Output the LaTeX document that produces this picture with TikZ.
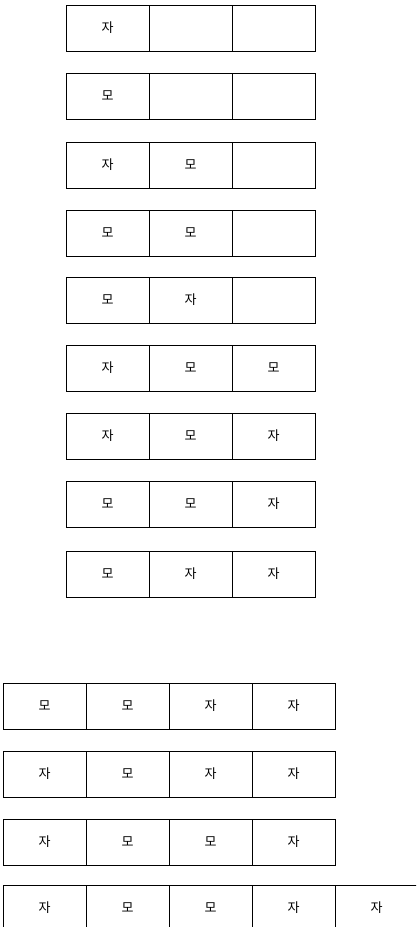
\documentclass[tikz,border=0pt]{standalone}
\usepackage{fontspec}
\newfontfamily\kr{Noto Sans CJK KR}
\usepackage{tikz}
\usetikzlibrary{positioning}

\begin{document}
\begin{tikzpicture}[
      x=1pt, y=1pt,
      node distance=0pt,
      cell/.style={draw, line width=1pt, minimum width=83pt,
                   minimum height=46pt, inner sep=0pt, outer sep=0pt,
                   font=\kr\fontsize{13}{15}\selectfont}
    ]
    \useasboundingbox (0,0) rectangle (416,-927);
    \clip (0,0) rectangle (416,-927);

    % three-cell rows
    \node[cell, anchor=north west] (r1a) at (66,-5) {자};
    \node[cell, right=of r1a] (r1b) {};
    \node[cell, right=of r1b] (r1c) {};

    \node[cell, anchor=north west] (r2a) at (66,-73) {모};
    \node[cell, right=of r2a] (r2b) {};
    \node[cell, right=of r2b] (r2c) {};

    \node[cell, anchor=north west] (r3a) at (66,-142) {자};
    \node[cell, right=of r3a] (r3b) {모};
    \node[cell, right=of r3b] (r3c) {};

    \node[cell, anchor=north west] (r4a) at (66,-210) {모};
    \node[cell, right=of r4a] (r4b) {모};
    \node[cell, right=of r4b] (r4c) {};

    \node[cell, anchor=north west] (r5a) at (66,-277) {모};
    \node[cell, right=of r5a] (r5b) {자};
    \node[cell, right=of r5b] (r5c) {};

    \node[cell, anchor=north west] (r6a) at (66,-345) {자};
    \node[cell, right=of r6a] (r6b) {모};
    \node[cell, right=of r6b] (r6c) {모};

    \node[cell, anchor=north west] (r7a) at (66,-413) {자};
    \node[cell, right=of r7a] (r7b) {모};
    \node[cell, right=of r7b] (r7c) {자};

    \node[cell, anchor=north west] (r8a) at (66,-481) {모};
    \node[cell, right=of r8a] (r8b) {모};
    \node[cell, right=of r8b] (r8c) {자};

    \node[cell, anchor=north west] (r9a) at (66,-551) {모};
    \node[cell, right=of r9a] (r9b) {자};
    \node[cell, right=of r9b] (r9c) {자};

    % four-cell rows
    \node[cell, anchor=north west] (r10a) at (3,-683) {모};
    \node[cell, right=of r10a] (r10b) {모};
    \node[cell, right=of r10b] (r10c) {자};
    \node[cell, right=of r10c] (r10d) {자};

    \node[cell, anchor=north west] (r11a) at (3,-751) {자};
    \node[cell, right=of r11a] (r11b) {모};
    \node[cell, right=of r11b] (r11c) {자};
    \node[cell, right=of r11c] (r11d) {자};

    \node[cell, anchor=north west] (r12a) at (3,-819) {자};
    \node[cell, right=of r12a] (r12b) {모};
    \node[cell, right=of r12b] (r12c) {모};
    \node[cell, right=of r12c] (r12d) {자};

    % five-cell row, cut by the page edge
    \node[cell, anchor=north west] (r13a) at (3,-885) {자};
    \node[cell, right=of r13a] (r13b) {모};
    \node[cell, right=of r13b] (r13c) {모};
    \node[cell, right=of r13c] (r13d) {자};
    \node[cell, right=of r13d] (r13e) {자};
  \end{tikzpicture}
\end{document}
